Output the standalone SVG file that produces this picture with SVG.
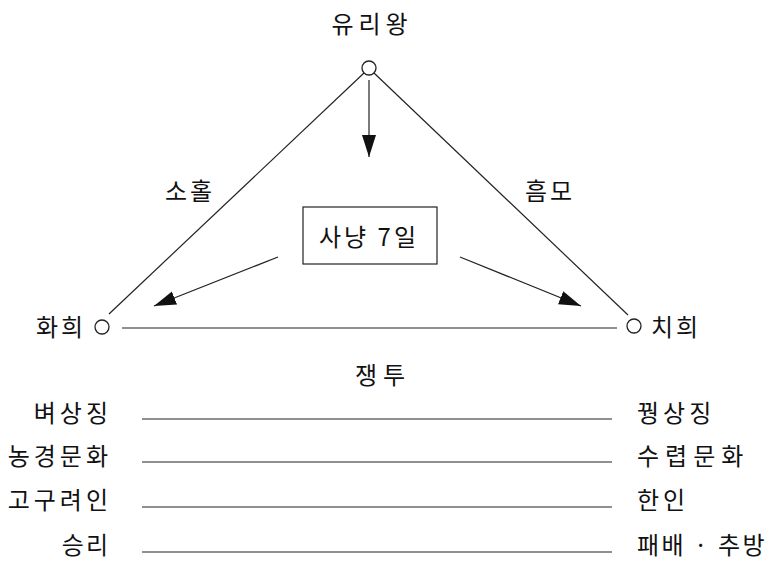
<svg xmlns="http://www.w3.org/2000/svg" width="769" height="566" viewBox="0 0 769 566">
<style>
text{font-family:"Noto Sans CJK KR","Noto Sans",sans-serif;fill:#111;font-size:24px;letter-spacing:4px}
.c{text-anchor:middle}
.e{text-anchor:end}
.ln{stroke:#222;stroke-width:1.2;fill:none}
.nd{fill:#fff;stroke:#222;stroke-width:1.3}
</style>
<defs>
<marker id="ah" markerUnits="userSpaceOnUse" markerWidth="24" markerHeight="16" refX="22" refY="7" orient="auto">
<path d="M0,0 L22,7 L0,14 Z" fill="#111"/>
</marker>
</defs>
<g id="connectors">
<line class="ln" x1="364" y1="73" x2="109" y2="314"/>
<line class="ln" x1="374" y1="73" x2="628" y2="315"/>
<line class="ln" x1="122" y1="328" x2="617" y2="328"/>
<line class="ln" x1="369" y1="80" x2="369" y2="157" marker-end="url(#ah)"/>
<line class="ln" x1="278" y1="257" x2="154" y2="306" marker-end="url(#ah)"/>
<line class="ln" x1="460" y1="257" x2="581" y2="306" marker-end="url(#ah)"/>
<line class="ln" x1="142" y1="419" x2="612" y2="419"/>
<line class="ln" x1="142" y1="462" x2="612" y2="462"/>
<line class="ln" x1="142" y1="507" x2="612" y2="507"/>
<line class="ln" x1="142" y1="552" x2="612" y2="552"/>
</g>
<g id="yuri">
<circle class="nd" cx="369" cy="68" r="7"/>
<text class="c" x="372" y="33" font-size="25" style="letter-spacing:5px">유리왕</text>
</g>
<g id="hwahui">
<circle class="nd" cx="102" cy="327" r="7"/>
<text x="36" y="336" style="letter-spacing:3px">화희</text>
</g>
<g id="chihui">
<circle class="nd" cx="634" cy="326" r="7"/>
<text x="651" y="336" style="letter-spacing:3px">치희</text>
</g>
<g id="hunt">
<rect x="303" y="207" width="134" height="57" fill="#fff" stroke="#222" stroke-width="1.2"/>
<text class="c" x="369" y="246" font-size="26" style="letter-spacing:3px">사냥 7일</text>
</g>
<g id="labels">
<text class="c" x="190" y="200" style="letter-spacing:3px">소홀</text>
<text class="c" x="550" y="200" style="letter-spacing:3px">흠모</text>
<text class="c" x="383" y="384" font-size="25" style="letter-spacing:6px">쟁투</text>
</g>
<g id="rows">
<text class="e" x="112" y="422">벼상징</text>
<text class="e" x="112" y="465">농경문화</text>
<text class="e" x="112" y="509">고구려인</text>
<text class="e" x="110" y="554" style="letter-spacing:2px">승리</text>
<text x="637" y="422" style="letter-spacing:4px">꿩상징</text>
<text x="637" y="465" style="letter-spacing:6px">수렵문화</text>
<text x="637" y="509" style="letter-spacing:4px">한인</text>
<text x="637" y="554" style="letter-spacing:2.5px">패배 · 추방</text>
</g>
</svg>
